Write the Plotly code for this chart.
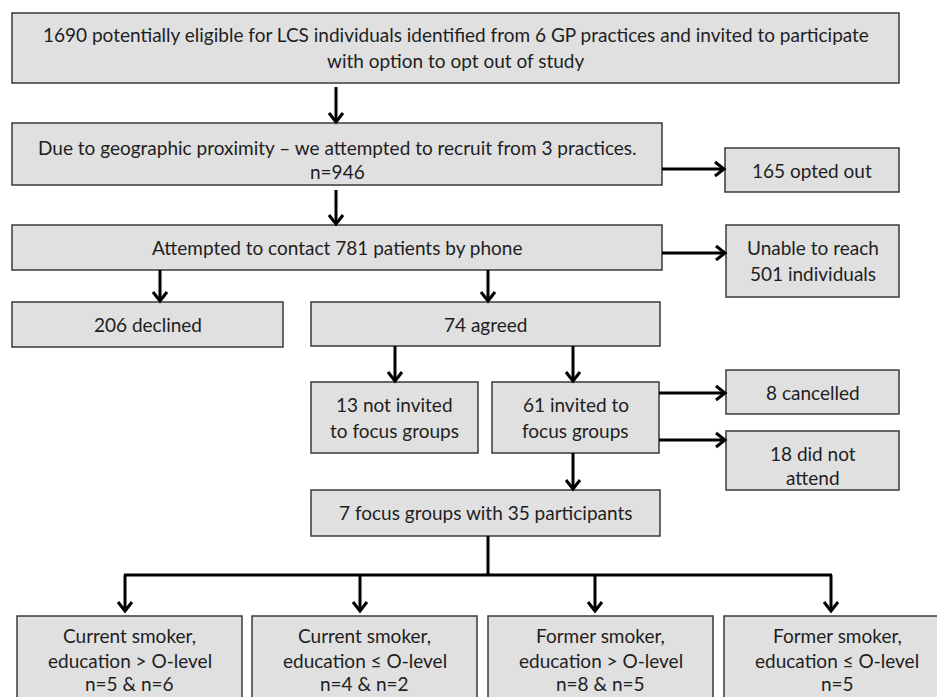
import plotly.graph_objects as go

# ---- flowchart content (text in each box) ----
box_eligible = ["1690 potentially eligible for LCS individuals identified from 6 GP practices and invited to participate",
                "with option to opt out of study"]
box_recruit = ["Due to geographic proximity – we attempted to recruit from 3 practices.", "n=946"]
box_optout = ["165 opted out"]
box_contact = ["Attempted to contact 781 patients by phone"]
box_unreach = ["Unable to reach", "501 individuals"]
box_declined = ["206 declined"]
box_agreed = ["74 agreed"]
box_notinv = ["13 not invited", "to focus groups"]
box_inv = ["61 invited to", "focus groups"]
box_cancel = ["8 cancelled"]
box_noattend = ["18 did not", "attend"]
box_groups = ["7 focus groups with 35 participants"]
group_labels = [
    ["Current smoker,", "education > O-level", "n=5 & n=6"],
    ["Current smoker,", "education ≤ O-level", "n=4 & n=2"],
    ["Former smoker,", "education > O-level", "n=8 & n=5"],
    ["Former smoker,", "education ≤ O-level", "n=5"],
]

W, H = 937, 697
FONT = "Lato, Calibri, Carlito, sans-serif"
FS = 19
FILL = "#e0e0e0"
EDGE = "#3a3a3a"

fig = go.Figure()
shapes = []
annots = []


def box(x0, x1, y0, y1, lines, ys):
    shapes.append(dict(type="rect", x0=x0, x1=x1, y0=y0, y1=y1, xref="x", yref="y",
                       fillcolor=FILL, line=dict(color=EDGE, width=1.5), layer="below"))
    cx = (x0 + x1) / 2
    for t, y in zip(lines, ys):
        annots.append(dict(x=cx, y=y, xref="x", yref="y", text=t, showarrow=False,
                           font=dict(family=FONT, size=FS, color="#1e1e1e"),
                           xanchor="center", yanchor="middle"))


def seg(x0, y0, x1, y1):
    shapes.append(dict(type="line", x0=x0, y0=y0, x1=x1, y1=y1, xref="x", yref="y",
                       line=dict(color="black", width=3)))


def arrow_down(x, y0, y1):
    seg(x, y0, x, y1 - 1)
    shapes.append(dict(type="path", path=f"M {x-7},{y1-10} L {x},{y1-1} L {x+7},{y1-10}",
                       xref="x", yref="y", line=dict(color="black", width=3)))


def arrow_right(y, x0, x1):
    seg(x0, y, x1 - 1, y)
    shapes.append(dict(type="path", path=f"M {x1-10},{y-7} L {x1-1},{y} L {x1-10},{y+7}",
                       xref="x", yref="y", line=dict(color="black", width=3)))


box(12, 899, 13, 83, box_eligible, [34, 60])
arrow_down(336, 87, 123)
box(12, 662, 123, 185, box_recruit, [147, 171])
arrow_right(169, 662, 725)
box(725, 899, 148, 192, box_optout, [170])
arrow_down(336, 190, 225)
box(12, 662, 225, 270, box_contact, [247])
arrow_right(253, 662, 726)
box(726, 899, 225, 297, box_unreach, [247, 273])
arrow_down(160, 270, 302)
box(12, 283, 302, 347, box_declined, [324])
arrow_down(488, 270, 302)
box(311, 660, 302, 346, box_agreed, [324])
arrow_down(395, 346, 382)
arrow_down(573, 346, 382)
box(311, 478, 382, 453, box_notinv, [404, 430])
box(492, 659, 382, 453, box_inv, [404, 430])
arrow_right(393, 659, 726)
box(726, 899, 370, 414, box_cancel, [392])
arrow_right(440, 659, 726)
box(726, 899, 431, 490, box_noattend, [453, 477])
arrow_down(573, 453, 490)
box(311, 660, 490, 536, box_groups, [512])
seg(488, 536, 488, 575)
seg(124, 575, 832, 575)
xs_arrows = [125, 360, 595, 831]
for xa in xs_arrows:
    arrow_down(xa, 575, 612)
bottom_x = [(17, 242), (252, 477), (488, 713), (724, 950)]
for (bx0, bx1), lab in zip(bottom_x, group_labels):
    box(bx0, bx1, 616, 730, lab, [635, 660, 683])

fig.update_layout(
    width=W, height=H, margin=dict(l=0, r=0, t=0, b=0),
    paper_bgcolor="white", plot_bgcolor="white",
    xaxis=dict(range=[0, W], visible=False, fixedrange=True),
    yaxis=dict(range=[H, 0], visible=False, fixedrange=True),
    shapes=shapes, annotations=annots, showlegend=False,
)
fig.write_html("out.html", config={"displayModeBar": False},
               post_script="document.body.style.margin='0';")
